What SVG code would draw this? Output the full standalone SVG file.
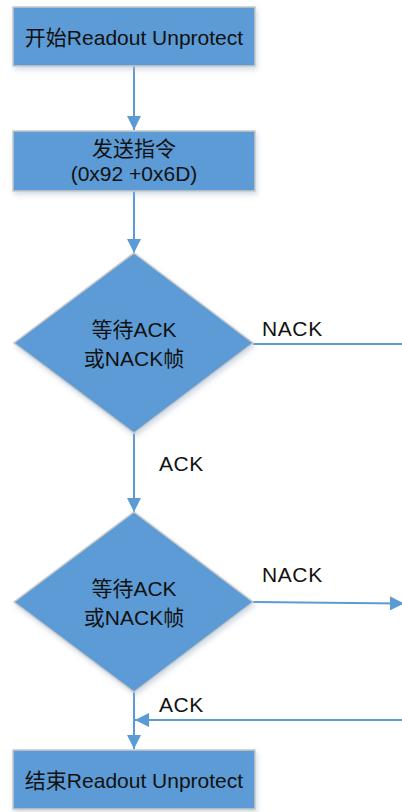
<svg xmlns="http://www.w3.org/2000/svg" width="402" height="812" viewBox="0 0 402 812">
  <defs>
    <filter id="soft" x="-10%" y="-10%" width="125%" height="130%">
      <feDropShadow dx="1.5" dy="3" stdDeviation="2.5" flood-color="#9fb4c8" flood-opacity="0.45"/>
    </filter>
    <marker id="arrow" viewBox="0 0 14 14" refX="14" refY="7" markerWidth="14" markerHeight="14" markerUnits="userSpaceOnUse" orient="auto">
      <path d="M0,0 L14,7 L0,14 Z" fill="#5b9bd5"/>
    </marker>
  </defs>
  <style>
    .shape { fill: #5b9bd5; stroke: #c9c9c9; stroke-width: 1.5; filter: url(#soft); }
    .label { font-family: "Liberation Sans", "Noto Sans CJK SC", sans-serif; font-size: 21px; fill: #111; text-anchor: middle; }
    .edge-label { font-family: "Liberation Sans", "Noto Sans CJK SC", sans-serif; font-size: 21px; letter-spacing: 0.6px; fill: #111; }
    .wire { fill: none; stroke: #5b9bd5; stroke-width: 2; }
  </style>

  <g id="connectors">
    <line class="wire" x1="134" y1="66" x2="134" y2="130" marker-end="url(#arrow)"/>
    <line class="wire" x1="134" y1="191" x2="134" y2="253" marker-end="url(#arrow)"/>
    <line class="wire" x1="134" y1="433" x2="134" y2="512" marker-end="url(#arrow)"/>
    <line class="wire" x1="253" y1="344" x2="402" y2="344"/>
    <line class="wire" x1="253" y1="602" x2="404" y2="603.5" marker-end="url(#arrow)"/>
    <line class="wire" x1="134" y1="692" x2="134" y2="749" marker-end="url(#arrow)"/>
    <line class="wire" x1="402" y1="720" x2="135" y2="720" marker-end="url(#arrow)"/>
    <text class="edge-label" x="262" y="336">NACK</text>
    <text class="edge-label" x="159" y="471">ACK</text>
    <text class="edge-label" x="262" y="582">NACK</text>
    <text class="edge-label" x="159" y="712">ACK</text>
  </g>

  <g id="start">
    <rect class="shape" x="13" y="7" width="242" height="59"/>
    <text class="label" x="134" y="44.5">开始Readout Unprotect</text>
  </g>

  <g id="send-command">
    <rect class="shape" x="13" y="131" width="242" height="60"/>
    <text class="label" x="134" y="156">发送指令</text>
    <text class="label" x="134" y="181">(0x92 +0x6D)</text>
  </g>

  <g id="wait-ack-1">
    <polygon class="shape" points="134,253 253,343 134,433 14,343"/>
    <text class="label" x="134" y="337">等待ACK</text>
    <text class="label" x="134" y="366">或NACK帧</text>
  </g>

  <g id="wait-ack-2">
    <polygon class="shape" points="134,512 253,602 134,692 14,602"/>
    <text class="label" x="134" y="596">等待ACK</text>
    <text class="label" x="134" y="625">或NACK帧</text>
  </g>

  <g id="end">
    <rect class="shape" x="13" y="750" width="242" height="59"/>
    <text class="label" x="134" y="787.5">结束Readout Unprotect</text>
  </g>
</svg>
